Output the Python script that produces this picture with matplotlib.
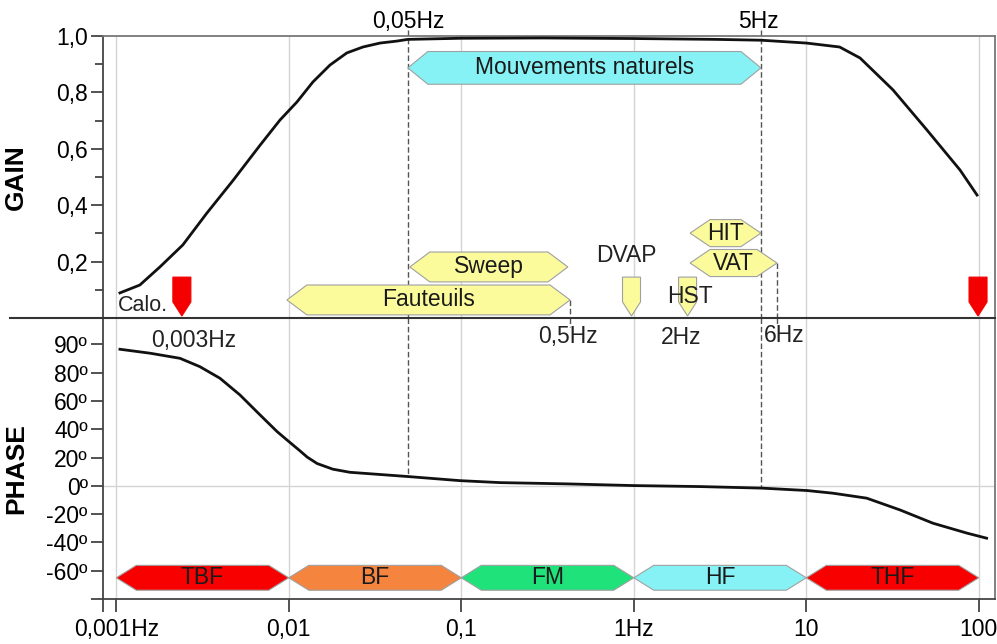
import numpy as np
import matplotlib
matplotlib.use("Agg")
from matplotlib import pyplot as plt
from matplotlib.patches import Polygon
from matplotlib.lines import Line2D

plt.rcParams['font.family'] = ['Liberation Sans', 'DejaVu Sans']

# courbe de gain
freq_gain = [0.00105, 0.00137, 0.00179, 0.00243, 0.00335, 0.00474, 0.0068, 0.00889, 0.01115, 0.0138,
             0.01733, 0.0217, 0.0269, 0.0338, 0.0424, 0.049, 0.1, 0.3, 1, 3, 5.5, 10, 15.6, 20.5,
             31.8, 50, 77.8, 97.7]
gain = [0.089, 0.117, 0.181, 0.259, 0.372, 0.487, 0.612, 0.702, 0.766, 0.837,
        0.897, 0.94, 0.961, 0.975, 0.982, 0.988, 0.992, 0.993, 0.991, 0.988, 0.985, 0.975, 0.961, 0.922,
        0.809, 0.667, 0.525, 0.436]

# courbe de phase (en unites de l'axe dessine)
freq_phase = [0.00105, 0.00157, 0.00234, 0.00305, 0.00399, 0.00521, 0.00681, 0.00855, 0.00975, 0.0116,
              0.0128, 0.0146, 0.018, 0.0226, 0.049, 0.098, 0.168, 0.41, 1.0, 2.42, 5.53, 10.1, 14.3, 22.4,
              34.9, 54.2, 85.3, 111]
phase = [96.6, 93.8, 90.2, 84.3, 76.1, 64.3, 50.2, 38.4, 32.5, 24.8,
         20.3, 15.8, 11.8, 9.6, 6.6, 3.7, 2.3, 1.4, 0.2, -0.5, -1.6, -3.3, -5.2, -8.7,
         -17.0, -26.4, -33.4, -37.0]

decades = [0.001, 0.01, 0.1, 1, 10, 100]
xtick_labels = ['0,001Hz', '0,01', '0,1', '1Hz', '10', '100']
gain_ticks = [0.2, 0.4, 0.6, 0.8, 1.0]
gain_labels = ['0,2', '0,4', '0,6', '0,8', '1,0']
phase_ticks = [100, 80, 60, 40, 20, 0, -20, -40, -60, -80]
phase_labels = ['90º', '80º', '60º', '40º', '20º', '0º', '-20º', '-40º', '-60º', '']

# bandes du haut : (debut, fin, centre, demi-hauteur, couleur, texte)
top_bands = [
    (0.049, 5.46, 0.887, 0.058, '#86F2F5', 'Mouvements naturels'),
    (0.0503, 0.415, 0.181, 0.053, '#FBFB9C', 'Sweep'),
    (0.00975, 0.427, 0.064, 0.053, '#FBFB9C', 'Fauteuils'),
    (2.12, 5.46, 0.301, 0.048, '#FBFB9C', 'HIT'),
    (2.12, 6.76, 0.195, 0.048, '#FBFB9C', 'VAT'),
]
# bandes du bas
low_names = ['TBF', 'BF', 'FM', 'HF', 'THF']
low_colors = ['#F90000', '#F5843F', '#20E27B', '#86F2F5', '#F90000']
# marqueurs (fleches vers le bas)
markers_f = [0.0024, 0.97, 2.05, 99]
markers_c = ['#F50000', '#FBFB9C', '#FBFB9C', '#F50000']

FS = 16.5
W, H = 997, 644
fig = plt.figure(figsize=(W / 100, H / 100), dpi=100)
ax1 = fig.add_axes([103 / W, 1 - 318 / H, 892 / W, 282 / H])
ax2 = fig.add_axes([103 / W, 1 - 599 / H, 892 / W, 281 / H])
xmin, xmax = 10 ** -3.077, 10 ** 2.094

k = 10 ** (20 / 172.5)
kw = 10 ** (9 / 172.5)


def band(ax, x0, x1, yc, h, color, label):
    pts = [(x0, yc), (x0 * k, yc + h), (x1 / k, yc + h), (x1, yc), (x1 / k, yc - h), (x0 * k, yc - h)]
    ax.add_patch(Polygon(pts, closed=True, fc=color, ec='#a0a0a0', lw=0.8, zorder=3))
    ax.text(np.sqrt(x0 * x1), yc, label, ha='center', va='center', fontsize=FS, color='#1a1a1a', zorder=4)


# ---- GAIN
ax1.plot(freq_gain, gain, color='#111111', lw=2, zorder=5)
ax1.set_xscale('log')
ax1.set_xlim(xmin, xmax)
ax1.set_ylim(0, 1.0)
for d in decades:
    ax1.axvline(d, color='#d4d4d4', lw=1, zorder=0)
ax1.set_yticks(gain_ticks)
ax1.set_yticklabels(gain_labels, fontsize=FS)
ax1.set_yticks([0.1, 0.3, 0.5, 0.7, 0.9], minor=True)
ax1.tick_params(axis='y', which='major', length=9, width=1.3, color='#444444', pad=2)
ax1.tick_params(axis='y', which='minor', length=6, width=1.3, color='#444444')
ax1.tick_params(axis='x', which='both', bottom=False, labelbottom=False)
ax1.spines['bottom'].set_visible(False)
ax1.spines['left'].set_color('#444444')
ax1.spines['left'].set_linewidth(1.3)
for s in ['top', 'right']:
    ax1.spines[s].set_color('#777777')
    ax1.spines[s].set_linewidth(1.3)
ax1.set_ylabel('GAIN', fontsize=19, fontweight='bold')
ax1.yaxis.set_label_coords(-75 / 892, 0.5)

for b in top_bands:
    band(ax1, *b)

for f, c in zip(markers_f, markers_c):
    pts = [(f / kw, 0.145), (f * kw, 0.145), (f * kw, 0.057), (f, 0.007), (f / kw, 0.057)]
    ax1.add_patch(Polygon(pts, closed=True, fc=c, ec='#a0a0a0' if c != '#F50000' else c, lw=0.8, zorder=3))

ax1.text(0.00102, 0.046, 'Calo.', ha='left', va='center', fontsize=FS - 1, color='#222222')
ax1.text(0.91, 0.22, 'DVAP', ha='center', va='center', fontsize=FS, color='#222222')
ax1.text(2.12, 0.078, 'HST', ha='center', va='center', fontsize=FS, color='#222222', zorder=5)
ax1.text(0.049, 1.05, '0,05Hz', ha='center', va='center', fontsize=FS, clip_on=False)
ax1.text(5.3, 1.05, '5Hz', ha='center', va='center', fontsize=FS, clip_on=False)

dash = dict(color='#555555', lw=1, ls=(0, (4, 2)), zorder=2)
ax1.plot([0.049, 0.049], [1.021, 0], clip_on=False, **dash)
ax1.plot([5.5, 5.5], [1.021, 0], clip_on=False, **dash)
ax1.plot([0.427, 0.427], [0.064, 0], **dash)
ax1.plot([6.76, 6.76], [0.195, 0], **dash)

# ---- PHASE
ax2.plot(freq_phase, phase, color='#111111', lw=2, zorder=5)
ax2.set_xscale('log')
ax2.set_xlim(xmin, xmax)
ax2.set_ylim(-80, 118.7)
for d in decades:
    ax2.axvline(d, color='#d4d4d4', lw=1, zorder=0)
ax2.axhline(0, color='#d4d4d4', lw=1, zorder=0)
ax2.set_xticks(decades)
ax2.set_xticklabels(xtick_labels, fontsize=FS)
ax2.set_xticks([xmin * 1.0001], minor=True)
ax2.xaxis.set_minor_formatter(plt.NullFormatter())
ax2.set_yticks(phase_ticks)
ax2.set_yticklabels(phase_labels, fontsize=FS)
ax2.tick_params(axis='both', which='both', length=9, width=1.3, color='#444444', pad=2)
ax2.tick_params(axis='x', pad=5)
ax2.spines['top'].set_visible(False)
for s in ['left', 'bottom']:
    ax2.spines[s].set_color('#444444')
    ax2.spines[s].set_linewidth(1.3)
ax2.spines['right'].set_color('#777777')
ax2.spines['right'].set_linewidth(1.3)
ax2.set_ylabel('PHASE', fontsize=19, fontweight='bold')
ax2.yaxis.set_label_coords(-75 / 892, 0.463)

for i, (name, col) in enumerate(zip(low_names, low_colors)):
    band(ax2, decades[i], decades[i + 1], -65, 8.8, col, name)

ax2.plot([0.049, 0.049], [118.7, 7.8], **dash)
ax2.plot([5.5, 5.5], [118.7, -1.2], **dash)
ax2.plot([0.427, 0.427], [118.7, 112], **dash)
ax2.plot([6.76, 6.76], [118.7, 114], **dash)

ax2.text(0.00282, 103, '0,003Hz', ha='center', va='center', fontsize=FS, color='#222222')
ax2.text(0.415, 105.3, '0,5Hz', ha='center', va='center', fontsize=FS, color='#222222')
ax2.text(1.87, 104.6, '2Hz', ha='center', va='center', fontsize=FS, color='#222222')
ax2.text(7.4, 106, '6Hz', ha='center', va='center', fontsize=FS, color='#222222')

# trait de separation entre les deux panneaux
fig.add_artist(Line2D([10 / W, 995 / W], [1 - 318 / H, 1 - 318 / H], color='#333333', lw=1.5))

fig.savefig('out.png', dpi=100)
